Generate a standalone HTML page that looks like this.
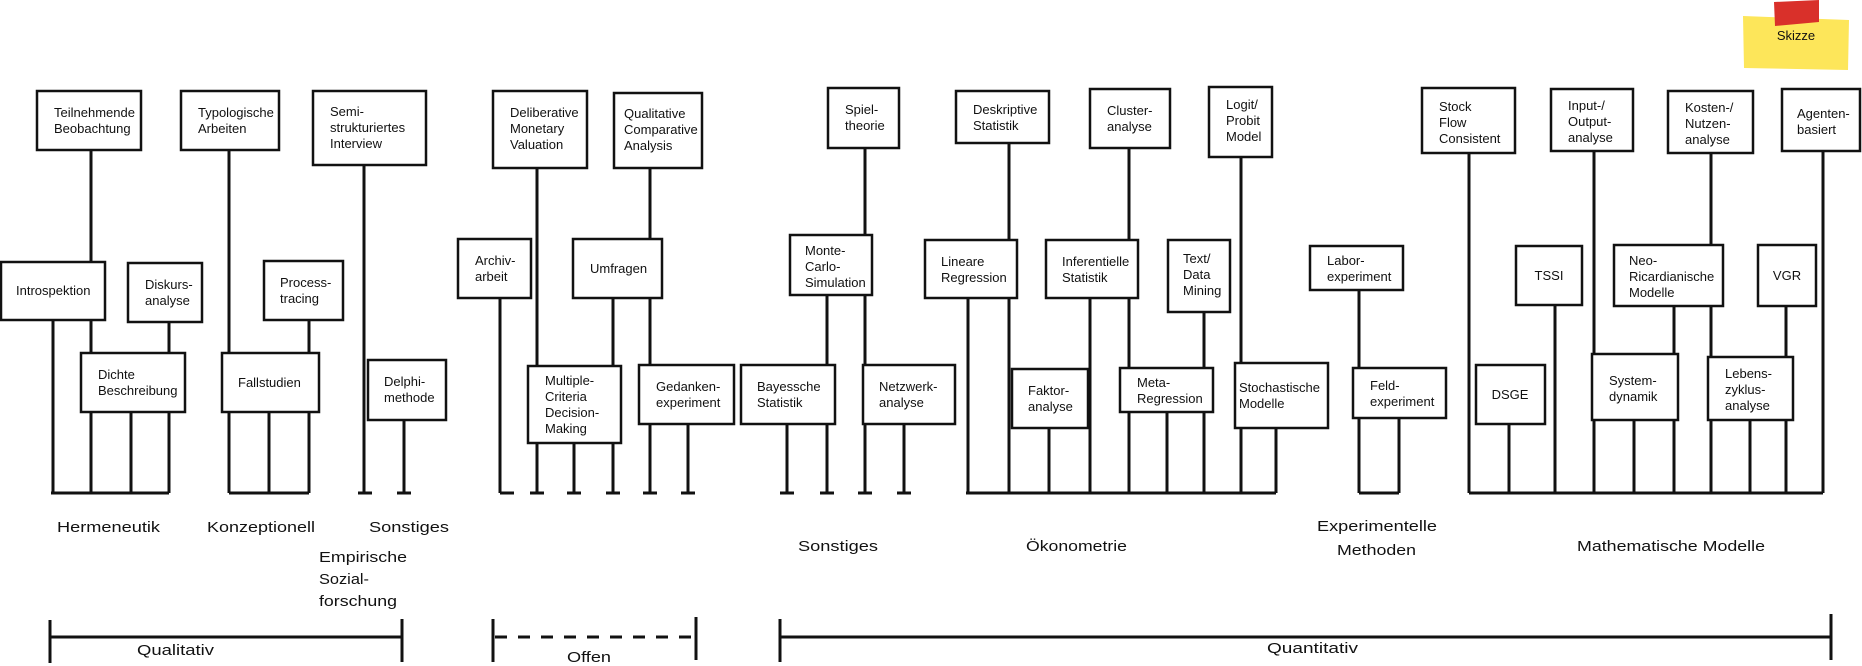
<!DOCTYPE html>
<html><head><meta charset="utf-8"><style>
html,body{margin:0;padding:0;background:#fff;}
svg{display:block;}
text{font-family:"Liberation Sans",sans-serif;font-size:13px;fill:#111;}
.b{fill:#fff;stroke:#111;stroke-width:2.5;}
.l{stroke:#111;stroke-width:3;fill:none;}
.g text{font-size:15px;}
</style></head><body>
<svg width="1862" height="666" viewBox="0 0 1862 666" xmlns="http://www.w3.org/2000/svg">
<polygon points="1743,16 1849,20 1848,70 1744,68" fill="#fde65a"/>
<polygon points="1774,2 1819,0 1819,22 1775,26" fill="#d9302a"/>
<text x="1796" y="40" text-anchor="middle">Skizze</text>

<g class="l">
<path d="M91 150V493M53 320V493M169 322V493M131 412V493M51 493H169"/>
<path d="M229 150V493M269 412V493M309 320V493M229 493H309"/>
<path d="M364 165V493M358 493H372M404 420V493M397 493H411"/>
<path d="M500 298V493M500 493H514M537 168V493M530 493H544M574 443V493M567 493H581M613 298V493M606 493H620M650 168V493M643 493H657M688 424V493M681 493H695"/>
<path d="M787 424V493M780 493H794M827 295V493M820 493H834M865 148V493M858 493H872M904 424V493M897 493H911"/>
<path d="M968 298V493M1009 143V493M1049 428V493M1090 298V493M1129 148V493M1167 412V493M1204 312V493M1241 157V493M1276 428V493M966 493H1276"/>
<path d="M1359 290V493M1399 418V493M1359 493H1399"/>
<path d="M1469 153V493M1509 424V493M1555 305V493M1594 151V493M1634 420V493M1674 306V493M1711 153V493M1750 420V493M1786 306V493M1823 151V493M1469 493H1823"/>
<path d="M50 637H402M50 620V663M402 619V662"/>
<path d="M495 637H696" stroke-dasharray="12,11"/>
<path d="M493 619V662M696 617V660"/>
<path d="M780 637H1831M780 619V662M1831 614V660"/>
</g>

<g>
<rect class="b" x="37" y="91" width="104" height="59"/>
<text x="54" y="117">Teilnehmende</text><text x="54" y="133">Beobachtung</text>
<rect class="b" x="181" y="91" width="98" height="59"/>
<text x="198" y="117">Typologische</text><text x="198" y="133">Arbeiten</text>
<rect class="b" x="313" y="91" width="113" height="74"/>
<text x="330" y="116">Semi-</text><text x="330" y="132">strukturiertes</text><text x="330" y="148">Interview</text>
<rect class="b" x="493" y="91" width="94" height="77"/>
<text x="510" y="117">Deliberative</text><text x="510" y="133">Monetary</text><text x="510" y="149">Valuation</text>
<rect class="b" x="614" y="93" width="88" height="75"/>
<text x="624" y="118">Qualitative</text><text x="624" y="134">Comparative</text><text x="624" y="150">Analysis</text>
<rect class="b" x="828" y="88" width="71" height="60"/>
<text x="845" y="114">Spiel-</text><text x="845" y="130">theorie</text>
<rect class="b" x="956" y="91" width="93" height="52"/>
<text x="973" y="114">Deskriptive</text><text x="973" y="130">Statistik</text>
<rect class="b" x="1090" y="89" width="80" height="59"/>
<text x="1107" y="115">Cluster-</text><text x="1107" y="131">analyse</text>
<rect class="b" x="1209" y="87" width="63" height="70"/>
<text x="1226" y="109">Logit/</text><text x="1226" y="125">Probit</text><text x="1226" y="141">Model</text>
<rect class="b" x="1422" y="88" width="93" height="65"/>
<text x="1439" y="111">Stock</text><text x="1439" y="127">Flow</text><text x="1439" y="143">Consistent</text>
<rect class="b" x="1551" y="89" width="82" height="62"/>
<text x="1568" y="110">Input-/</text><text x="1568" y="126">Output-</text><text x="1568" y="142">analyse</text>
<rect class="b" x="1668" y="91" width="85" height="62"/>
<text x="1685" y="112">Kosten-/</text><text x="1685" y="128">Nutzen-</text><text x="1685" y="144">analyse</text>
<rect class="b" x="1782" y="89" width="78" height="62"/>
<text x="1797" y="118">Agenten-</text><text x="1797" y="134">basiert</text>

<rect class="b" x="1" y="262" width="104" height="58"/>
<text x="16" y="295">Introspektion</text>
<rect class="b" x="128" y="263" width="74" height="59"/>
<text x="145" y="289">Diskurs-</text><text x="145" y="305">analyse</text>
<rect class="b" x="264" y="261" width="79" height="59"/>
<text x="280" y="287">Process-</text><text x="280" y="303">tracing</text>
<rect class="b" x="458" y="239" width="73" height="59"/>
<text x="475" y="265">Archiv-</text><text x="475" y="281">arbeit</text>
<rect class="b" x="573" y="239" width="89" height="59"/>
<text x="590" y="273">Umfragen</text>
<rect class="b" x="790" y="235" width="82" height="60"/>
<text x="805" y="255">Monte-</text><text x="805" y="271">Carlo-</text><text x="805" y="287">Simulation</text>
<rect class="b" x="925" y="240" width="92" height="58"/>
<text x="941" y="266">Lineare</text><text x="941" y="282">Regression</text>
<rect class="b" x="1046" y="240" width="92" height="58"/>
<text x="1062" y="266">Inferentielle</text><text x="1062" y="282">Statistik</text>
<rect class="b" x="1168" y="240" width="62" height="72"/>
<text x="1183" y="263">Text/</text><text x="1183" y="279">Data</text><text x="1183" y="295">Mining</text>
<rect class="b" x="1310" y="246" width="93" height="44"/>
<text x="1327" y="265">Labor-</text><text x="1327" y="281">experiment</text>
<rect class="b" x="1516" y="246" width="66" height="59"/>
<text x="1549" y="280" text-anchor="middle">TSSI</text>
<rect class="b" x="1614" y="245" width="109" height="61"/>
<text x="1629" y="265">Neo-</text><text x="1629" y="281">Ricardianische</text><text x="1629" y="297">Modelle</text>
<rect class="b" x="1758" y="245" width="58" height="61"/>
<text x="1787" y="280" text-anchor="middle">VGR</text>

<rect class="b" x="81" y="353" width="104" height="59"/>
<text x="98" y="379">Dichte</text><text x="98" y="395">Beschreibung</text>
<rect class="b" x="222" y="353" width="97" height="59"/>
<text x="238" y="387">Fallstudien</text>
<rect class="b" x="368" y="360" width="78" height="60"/>
<text x="384" y="386">Delphi-</text><text x="384" y="402">methode</text>
<rect class="b" x="528" y="366" width="93" height="77"/>
<text x="545" y="385">Multiple-</text><text x="545" y="401">Criteria</text><text x="545" y="417">Decision-</text><text x="545" y="433">Making</text>
<rect class="b" x="639" y="365" width="95" height="59"/>
<text x="656" y="391">Gedanken-</text><text x="656" y="407">experiment</text>
<rect class="b" x="741" y="365" width="94" height="59"/>
<text x="757" y="391">Bayessche</text><text x="757" y="407">Statistik</text>
<rect class="b" x="863" y="365" width="92" height="59"/>
<text x="879" y="391">Netzwerk-</text><text x="879" y="407">analyse</text>
<rect class="b" x="1012" y="369" width="76" height="59"/>
<text x="1028" y="395">Faktor-</text><text x="1028" y="411">analyse</text>
<rect class="b" x="1120" y="368" width="93" height="44"/>
<text x="1137" y="387">Meta-</text><text x="1137" y="403">Regression</text>
<rect class="b" x="1235" y="363" width="93" height="65"/>
<text x="1239" y="392">Stochastische</text><text x="1239" y="408">Modelle</text>
<rect class="b" x="1353" y="368" width="93" height="50"/>
<text x="1370" y="390">Feld-</text><text x="1370" y="406">experiment</text>
<rect class="b" x="1476" y="365" width="69" height="59"/>
<text x="1510" y="399" text-anchor="middle">DSGE</text>
<rect class="b" x="1592" y="354" width="86" height="66"/>
<text x="1609" y="385">System-</text><text x="1609" y="401">dynamik</text>
<rect class="b" x="1708" y="357" width="85" height="63"/>
<text x="1725" y="378">Lebens-</text><text x="1725" y="394">zyklus-</text><text x="1725" y="410">analyse</text>
</g>

<g class="g">
<text x="57" y="532" textLength="103" lengthAdjust="spacingAndGlyphs">Hermeneutik</text>
<text x="207" y="532" textLength="108" lengthAdjust="spacingAndGlyphs">Konzeptionell</text>
<text x="369" y="532" textLength="80" lengthAdjust="spacingAndGlyphs">Sonstiges</text>
<text x="319" y="562" textLength="88" lengthAdjust="spacingAndGlyphs">Empirische</text>
<text x="319" y="584" textLength="50" lengthAdjust="spacingAndGlyphs">Sozial-</text>
<text x="319" y="606" textLength="78" lengthAdjust="spacingAndGlyphs">forschung</text>
<text x="798" y="551" textLength="80" lengthAdjust="spacingAndGlyphs">Sonstiges</text>
<text x="1026" y="551" textLength="101" lengthAdjust="spacingAndGlyphs">Ökonometrie</text>
<text x="1317" y="531" textLength="120" lengthAdjust="spacingAndGlyphs">Experimentelle</text>
<text x="1337" y="555" textLength="79" lengthAdjust="spacingAndGlyphs">Methoden</text>
<text x="1577" y="551" textLength="188" lengthAdjust="spacingAndGlyphs">Mathematische Modelle</text>
<text x="137" y="655" textLength="77" lengthAdjust="spacingAndGlyphs">Qualitativ</text>
<text x="567" y="662" textLength="44" lengthAdjust="spacingAndGlyphs">Offen</text>
<text x="1267" y="653" textLength="91" lengthAdjust="spacingAndGlyphs">Quantitativ</text>
</g>
</svg>
</body></html>
